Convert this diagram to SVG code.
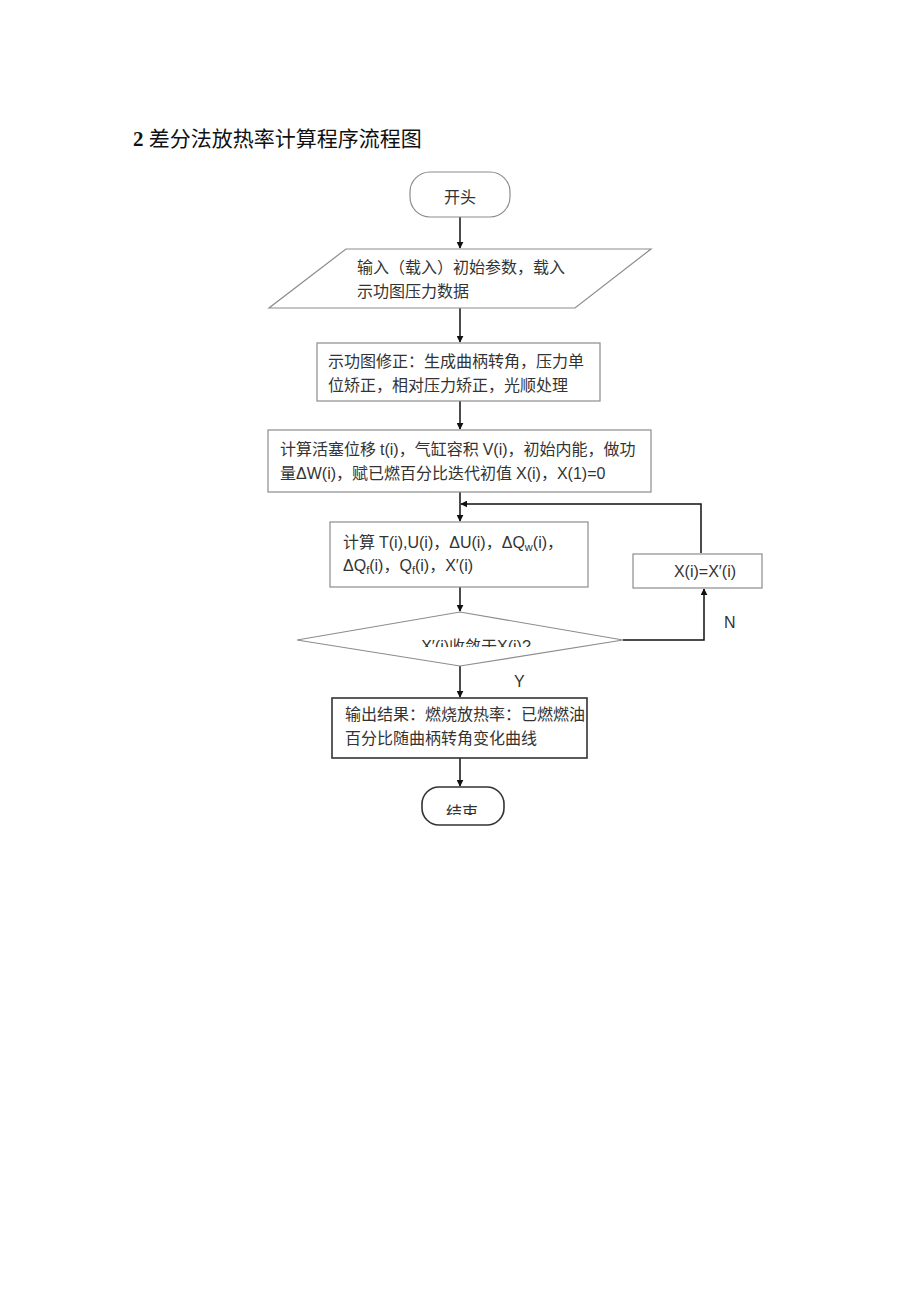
<svg xmlns="http://www.w3.org/2000/svg" width="920" height="1301" viewBox="0 0 920 1301">
<style>
.box{fill:#fff;stroke:#8c8c8c;stroke-width:1.2}
.dark{fill:#fff;stroke:#333;stroke-width:1.6}
.t{font-family:"Liberation Serif","Noto Sans CJK SC",serif;font-size:16px;fill:#333}
.l{font-family:"Liberation Sans","Noto Sans CJK SC",sans-serif;font-size:16px;fill:#333}
.c{stroke:#111;stroke-width:1.5;fill:none;marker-end:url(#ah)}
</style>
<defs>
<marker id="ah" viewBox="0 0 10 10" refX="9" refY="5" markerWidth="7" markerHeight="7" markerUnits="userSpaceOnUse" orient="auto">
<path d="M0,0 L10,5 L0,10 z" fill="#111"/>
</marker>
<clipPath id="cd"><rect x="400" y="630" width="160" height="17"/></clipPath>
<clipPath id="ce"><rect x="430" y="795" width="60" height="20"/></clipPath>
</defs>
<rect width="920" height="1301" fill="#fff"/>
<text x="133" y="146" style="font-family:'Liberation Serif','Noto Sans CJK SC',serif;font-size:21px;fill:#111"><tspan font-weight="bold">2</tspan> 差分法放热率计算程序流程图</text>

<g id="connectors">
<line class="c" x1="460" y1="217" x2="460" y2="248"/>
<line class="c" x1="460" y1="308" x2="460" y2="342"/>
<line class="c" x1="460" y1="401" x2="460" y2="429"/>
<line class="c" x1="460" y1="492" x2="460" y2="521"/>
<polyline class="c" points="701,553 701,504 461,504"/>
<line class="c" x1="460" y1="587" x2="460" y2="611"/>
<polyline class="c" points="623,640 704,640 704,589"/>
<line class="c" x1="460" y1="666" x2="460" y2="697"/>
<line class="c" x1="460" y1="758" x2="460" y2="786"/>
<text class="l" x="724" y="628" font-size="14">N</text>
<text class="l" x="514" y="687" font-size="14">Y</text>
</g>

<g id="start">
<rect class="box" x="410" y="172" width="100" height="45" rx="20" ry="20" stroke="#999"/>
<text class="t" x="460" y="203" text-anchor="middle">开头</text>
</g>

<g id="input">
<polygon class="box" points="346,249 651,249 575,308 269,308"/>
<text class="t" x="357" y="273">输入（载入）初始参数，载入</text>
<text class="t" x="357" y="297">示功图压力数据</text>
</g>

<g id="correct">
<rect class="box" x="317" y="343" width="283" height="58"/>
<text class="t" x="328" y="367">示功图修正：生成曲柄转角，压力单</text>
<text class="t" x="328" y="391">位矫正，相对压力矫正，光顺处理</text>
</g>

<g id="calc1">
<rect class="box" x="268" y="430" width="383" height="62"/>
<text class="t" x="280" y="455">计算活塞位移 <tspan class="l">t(i)</tspan>，气缸容积 <tspan class="l">V(i)</tspan>，初始内能，做功</text>
<text class="t" x="280" y="479">量<tspan class="l">ΔW(i)</tspan>，赋已燃百分比迭代初值 <tspan class="l">X(i)</tspan>，<tspan class="l">X(1)=0</tspan></text>
</g>

<g id="calc2">
<rect class="box" x="330" y="522" width="258" height="65"/>
<text class="t" x="343" y="548">计算 <tspan class="l">T(i),U(i)</tspan>，<tspan class="l">ΔU(i)</tspan>，<tspan class="l">ΔQ<tspan font-size="11" dy="3">w</tspan><tspan dy="-3">(i)</tspan></tspan>，</text>
<text class="t" x="343" y="571"><tspan class="l">ΔQ<tspan font-size="11" dy="3">f</tspan><tspan dy="-3">(i)</tspan></tspan>，<tspan class="l">Q<tspan font-size="11" dy="3">f</tspan><tspan dy="-3">(i)</tspan></tspan>，<tspan class="l">X′(i)</tspan></text>
</g>

<g id="update">
<rect class="box" x="633" y="554" width="129" height="34"/>
<text class="l" x="705" y="577" text-anchor="middle" font-size="15">X(i)=X′(i)</text>
</g>

<g id="decision">
<polygon class="box" points="460,612 623,640 460,666 297,640"/>
<text class="t" x="476" y="652" text-anchor="middle" font-size="14" clip-path="url(#cd)"><tspan class="l" font-size="14">X′(i)</tspan>收敛于<tspan class="l" font-size="14">X(i)?</tspan></text>
</g>

<g id="output">
<rect class="dark" x="332" y="698" width="255" height="60"/>
<text class="t" x="345" y="720" font-size="15.5">输出结果：燃烧放热率：已燃燃油</text>
<text class="t" x="345" y="744" font-size="15.5">百分比随曲柄转角变化曲线</text>
</g>

<g id="end">
<rect class="dark" x="422" y="787" width="82" height="38" rx="17" ry="17" stroke="#555"/>
<text class="t" x="462" y="818" text-anchor="middle" font-size="15" clip-path="url(#ce)">结束</text>
</g>
</svg>
